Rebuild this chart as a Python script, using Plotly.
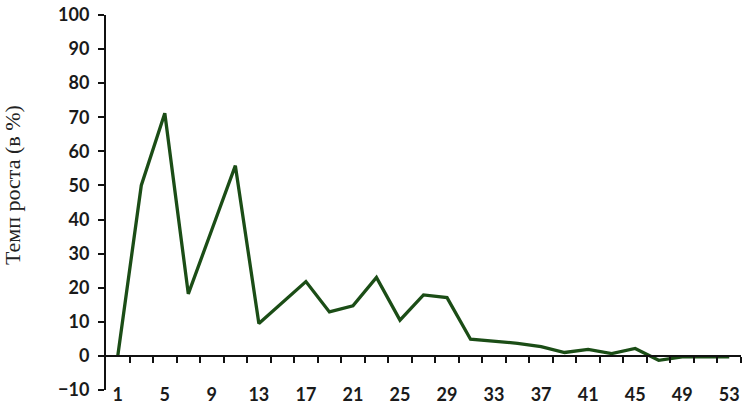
import plotly.graph_objects as go

# periods (categories) and growth rate, %
periods = [1, 3, 5, 7, 9, 11, 13, 15, 17, 19, 21, 23, 25, 27,
           29, 31, 33, 35, 37, 39, 41, 43, 45, 47, 49, 51, 53]
growth = [0, 50, 71.2, 18.2, 37, 55.8, 9.5, 15.5, 21.8, 12.9, 14.7, 23.0, 10.5, 17.9,
          17.1, 4.9, 4.4, 3.7, 2.7, 1.0, 1.9, 0.7, 2.2, -1.3, -0.3, -0.2, -0.3]
label_vals = [1, 5, 9, 13, 17, 21, 25, 29, 33, 37, 41, 45, 49, 53]
boundaries = [2, 4, 6, 8, 10, 12, 14, 16, 18, 20, 22, 24, 26,
              28, 30, 32, 34, 36, 38, 40, 42, 44, 46, 48, 50, 52, 54]

ymin, ymax = -10, 100
zero_pos = (0 - ymin) / (ymax - ymin)

fig = go.Figure()
fig.add_trace(go.Scatter(x=periods, y=growth, mode='lines',
                         line=dict(color='#1b4d16', width=3.3),
                         showlegend=False, hoverinfo='skip'))

tick_font = dict(family='Lato, Open Sans, sans-serif', size=18, color='#1a1a1a', weight='bold')

fig.update_layout(
    width=749, height=411,
    margin=dict(l=106, r=8, t=15, b=21),
    plot_bgcolor='white', paper_bgcolor='white',
    xaxis=dict(range=[0, 54], anchor='free', position=zero_pos, automargin=False,
               showline=True, linecolor='#111', linewidth=2,
               ticks='', ticklen=0,
               tickvals=label_vals, ticktext=[str(v) for v in label_vals],
               tickfont=tick_font, ticklabelstandoff=22,
               minor=dict(tickvals=boundaries, ticks='outside', ticklen=6,
                          tickwidth=2, tickcolor='#111', showgrid=False),
               showgrid=False, zeroline=False),
    yaxis=dict(range=[ymin, ymax], dtick=10, tick0=0, automargin=False,
               showline=True, linecolor='#111', linewidth=2,
               ticks='outside', ticklen=6, tickwidth=2, tickcolor='#111',
               tickfont=tick_font, ticklabelstandoff=5,
               showgrid=False, zeroline=False),
    annotations=[dict(text='Темп роста (в %)', textangle=-90,
                      xref='paper', yref='paper', x=(12 - 106) / 635, y=(390 - 185) / 375,
                      xanchor='center', yanchor='middle', showarrow=False,
                      font=dict(family='Liberation Serif, Times New Roman, serif',
                                size=22, color='#222'))],
)

fig.write_html("out.html", config={'displayModeBar': False},
               post_script="document.body.style.margin='0';")
